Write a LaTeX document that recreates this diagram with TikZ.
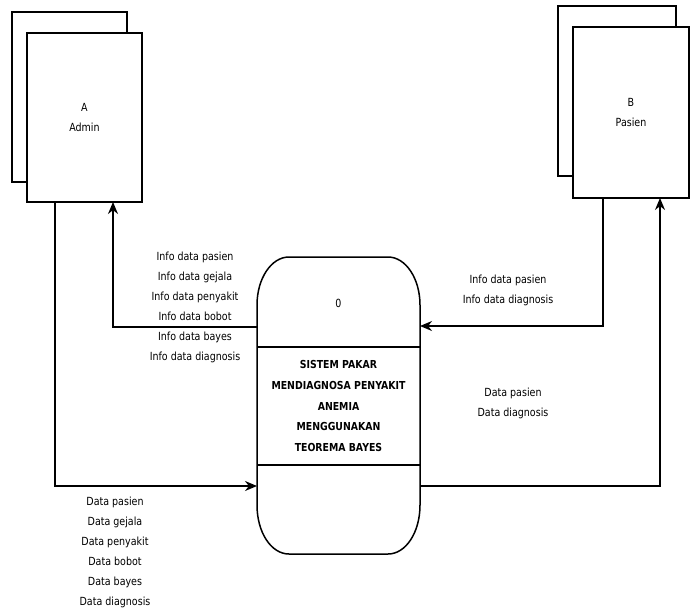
\documentclass[tikz,border=0pt]{standalone}
\usepackage{fontspec}
\setmainfont{DejaVu Sans}[FakeStretch=0.85]
\usetikzlibrary{arrows.meta}
\begin{document}
\begin{tikzpicture}[x=1pt,y=-1pt,
  box/.style={draw,line width=1.5pt,fill=white},
  flow/.style={line width=1.5pt,-{Stealth[length=12pt,width=10pt]}},
  lbl/.style={font=\fontsize{11.2}{20}\selectfont,align=center,inner sep=0pt},
  hdr/.style={font=\fontsize{11}{20.8}\selectfont\bfseries,align=center,inner sep=0pt}]
\useasboundingbox (0,0) rectangle (695,611);
% Admin
\draw[box] (12,12) rectangle (127,182);
\draw[box] (27,33) rectangle (142,202);
\node[lbl] (admin) at (84.5,117.5) {A\\Admin};
\coordinate (adminL) at (55,202);
\coordinate (adminR) at (113,202);
% Pasien
\draw[box] (558,6) rectangle (676,176);
\draw[box] (573,27) rectangle (689,198);
\node[lbl] (pasien) at (631,112) {B\\Pasien};
\coordinate (pasienL) at (603,198);
\coordinate (pasienR) at (660,198);
% Process
\draw[line width=1.5pt] (257,305) .. controls (257,278.5) and (271.3,257) .. (289,257)
  -- (388,257) .. controls (405.7,257) and (420,278.5) .. (420,305)
  -- (420,505) .. controls (420,532.6) and (405.7,554) .. (388,554)
  -- (289,554) .. controls (271.3,554) and (257,532.6) .. (257,505) -- cycle;
\draw[line width=1.5pt] (257,347) -- (420,347);
\draw[line width=1.5pt] (257,465) -- (420,465);
\node[lbl] (pid) at (338.5,303) {0};
\node[hdr] (pname) at (338.5,406) {SISTEM PAKAR\\MENDIAGNOSA PENYAKIT\\ANEMIA\\MENGGUNAKAN\\TEOREMA BAYES};
\coordinate (pL1) at (257,327);
\coordinate (pL2) at (257,486);
\coordinate (pR1) at (420,326);
\coordinate (pR2) at (420,486);
% flows
\draw[flow] (adminL) |- (pL2);
\draw[flow] (pL1) -| (adminR);
\draw[flow] (pasienL) |- (pR1);
\draw[flow] (pR2) -| (pasienR);
% labels
\node[lbl] (l1) at (195,307) {Info data pasien\\Info data gejala\\Info data penyakit\\Info data bobot\\Info data bayes\\Info data diagnosis};
\node[lbl] (l2) at (508,290) {Info data pasien\\Info data diagnosis};
\node[lbl] (l3) at (513,403) {Data pasien\\Data diagnosis};
\node[lbl] (l4) at (115,552) {Data pasien\\Data gejala\\Data penyakit\\Data bobot\\Data bayes\\Data diagnosis};
\end{tikzpicture}
\end{document}
